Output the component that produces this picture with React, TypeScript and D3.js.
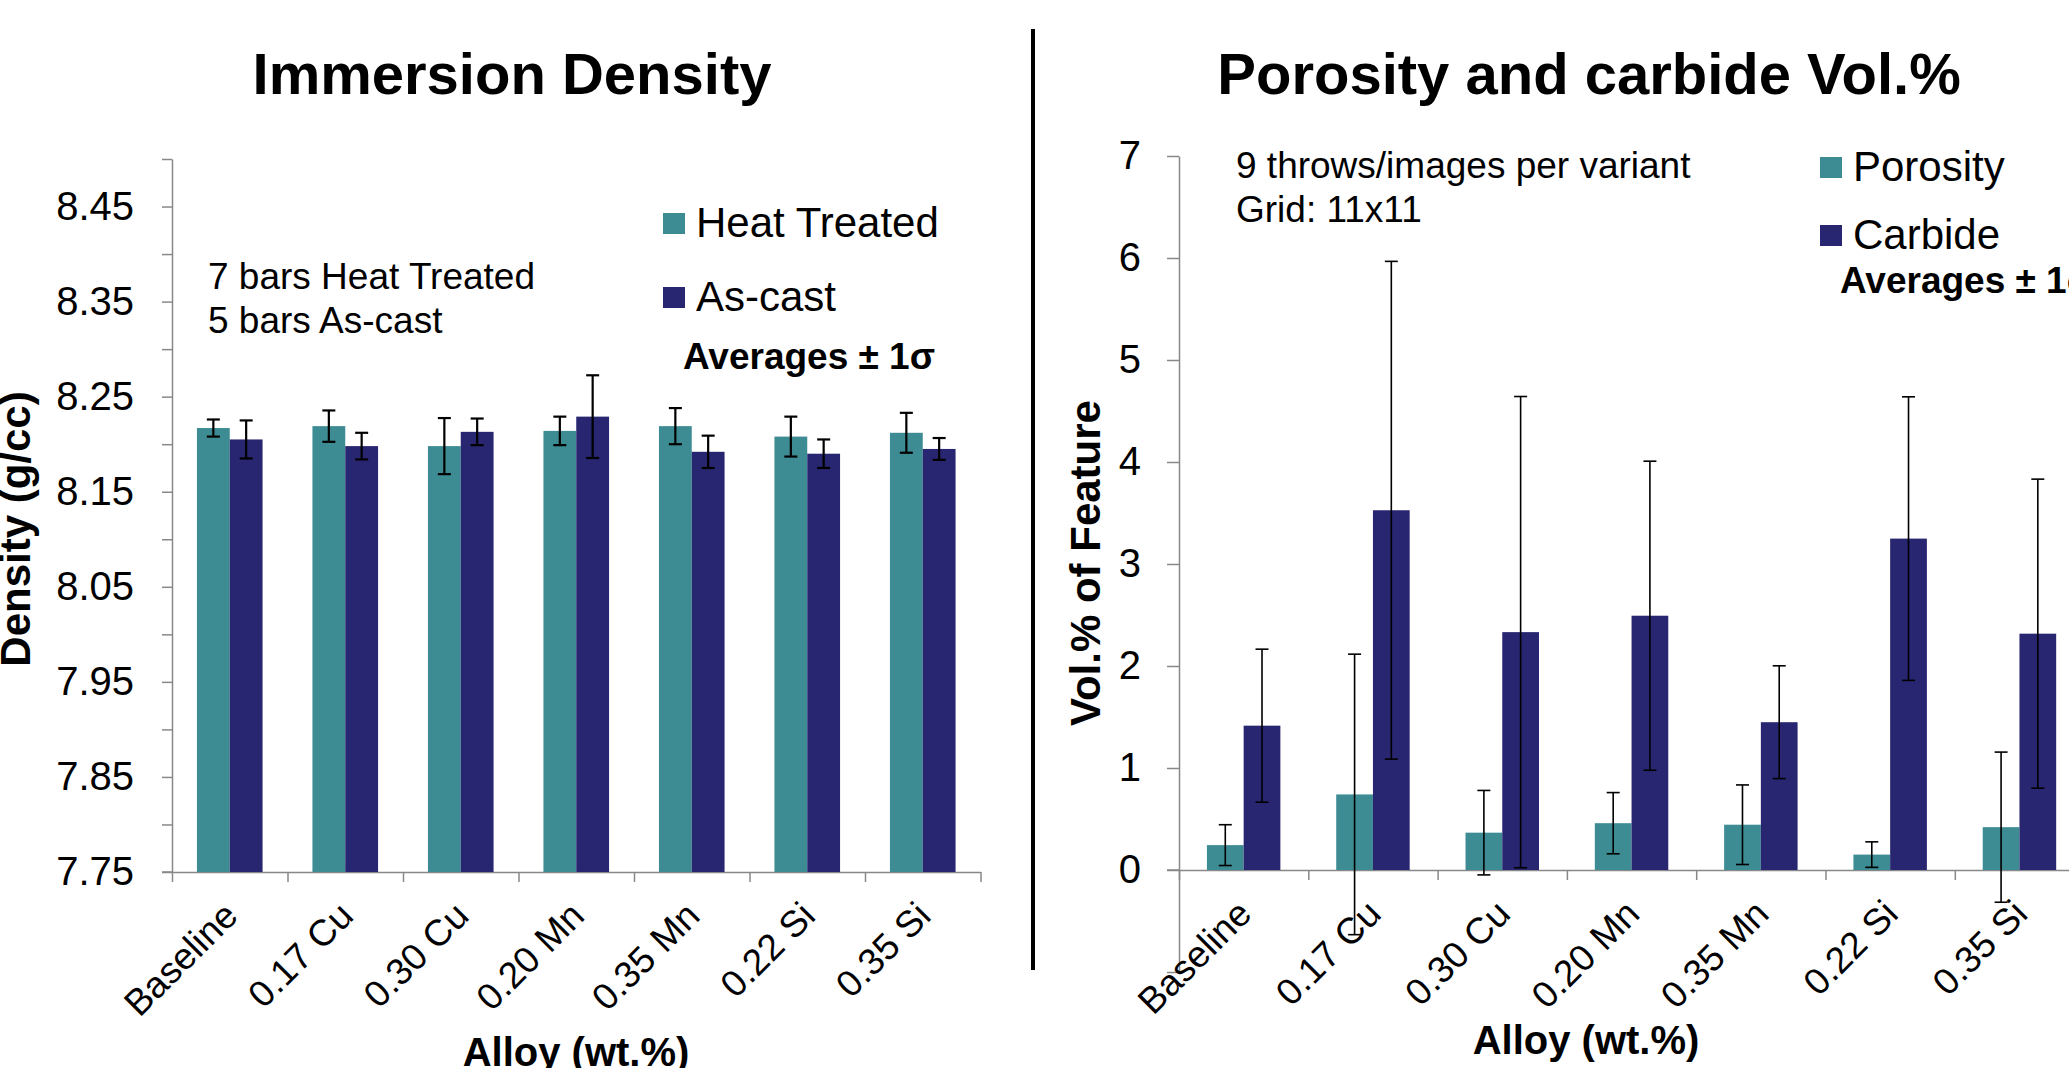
import { useRef, useEffect } from 'react';
import * as d3 from 'd3';

const alloys = ['Baseline', '0.17 Cu', '0.30 Cu', '0.20 Mn', '0.35 Mn', '0.22 Si', '0.35 Si'];

// Immersion density (g/cc), mean and 1 sigma
const heatTreated = [8.217, 8.219, 8.198, 8.214, 8.219, 8.208, 8.212];
const heatTreatedSd = [0.009, 0.0165, 0.0295, 0.015, 0.019, 0.021, 0.021];
const asCast = [8.205, 8.198, 8.213, 8.229, 8.192, 8.19, 8.195];
const asCastSd = [0.02, 0.014, 0.014, 0.0435, 0.017, 0.015, 0.0115];

// Vol.% of feature, mean and 1 sigma
const porosity = [0.244, 0.741, 0.366, 0.459, 0.444, 0.151, 0.42];
const porositySd = [0.2, 1.375, 0.414, 0.3, 0.39, 0.125, 0.736];
const carbide = [1.415, 3.527, 2.332, 2.493, 1.449, 3.249, 2.317];
const carbideSd = [0.75, 2.44, 2.31, 1.515, 0.553, 1.39, 1.515];

const densityTicks = [7.75, 7.85, 7.95, 8.05, 8.15, 8.25, 8.35, 8.45];
const densityMinorTicks = [7.8, 7.9, 8.0, 8.1, 8.2, 8.3, 8.4, 8.5];
const volTicks = [-1, 0, 1, 2, 3, 4, 5, 6, 7];

const TEAL = '#3e8c93';
const NAVY = '#282671';
const AXIS = '#888888';
const FONT = '"Liberation Sans", Arial, sans-serif';

type Series = { key: string; color: string; values: number[]; sd: number[] };

interface PanelOpts {
  xRange: [number, number];
  yDomain: [number, number];
  yRange: [number, number];
  baseValue: number;
  ticks: number[];
  minorTicks: number[];
  tickFormat: (d: number) => string;
  tickLen: number;
  tickPad: number;
  series: Series[];
  errWidth: number;
}

function drawPanel(svg: d3.Selection<SVGSVGElement, unknown, null, undefined>, o: PanelOpts) {
  const g = svg.append('g');
  const y = d3.scaleLinear().domain(o.yDomain).range(o.yRange);
  const x = d3.scaleBand<string>().domain(alloys).range(o.xRange).padding(0);
  const sub = d3.scaleBand<string>()
    .domain(o.series.map((s) => s.key))
    .range([0, x.bandwidth()])
    .paddingInner(0)
    .paddingOuter(0.76);
  const baseY = y(o.baseValue);

  // y axis
  const yAxis = d3.axisLeft(y)
    .tickValues(o.ticks)
    .tickFormat((d) => o.tickFormat(d as number))
    .tickSize(o.tickLen)
    .tickSizeOuter(0)
    .tickPadding(o.tickPad);
  const ya = g.append('g').attr('transform', `translate(${o.xRange[0]},0)`).call(yAxis);
  ya.selectAll('path,line').attr('stroke', AXIS).attr('stroke-width', 1.5);
  ya.selectAll('text').attr('fill', '#000').style('font-size', '40px').style('font-family', FONT);

  if (o.minorTicks.length) {
    const ym = g.append('g').attr('transform', `translate(${o.xRange[0]},0)`)
      .call(d3.axisLeft(y).tickValues(o.minorTicks).tickFormat(() => '').tickSize(o.tickLen).tickSizeOuter(0));
    ym.select('.domain').remove();
    ym.selectAll('line').attr('stroke', AXIS).attr('stroke-width', 1.5);
  }

  // category axis, ticks on band boundaries
  const xi = d3.scaleLinear().domain([0, alloys.length]).range(o.xRange);
  const xa = g.append('g').attr('transform', `translate(0,${baseY})`)
    .call(d3.axisBottom(xi).tickValues(d3.range(alloys.length + 1)).tickFormat(() => '').tickSize(10).tickSizeOuter(0));
  xa.selectAll('path,line').attr('stroke', AXIS).attr('stroke-width', 1.5);
  g.append('line')
    .attr('x1', o.xRange[0] - o.tickLen).attr('x2', o.xRange[0])
    .attr('y1', baseY).attr('y2', baseY)
    .attr('stroke', AXIS).attr('stroke-width', 1.5);

  // bars
  o.series.forEach((s) => {
    g.selectAll(null)
      .data(s.values)
      .join('rect')
      .attr('x', (_, i) => (x(alloys[i]) ?? 0) + (sub(s.key) ?? 0))
      .attr('y', (d) => Math.min(y(d), baseY))
      .attr('width', sub.bandwidth())
      .attr('height', (d) => Math.abs(baseY - y(d)))
      .attr('fill', s.color);
  });

  // error bars
  o.series.forEach((s) => {
    const cx = (i: number) => (x(alloys[i]) ?? 0) + (sub(s.key) ?? 0) + sub.bandwidth() / 2;
    const eb = g.selectAll(null).data(s.values).join('g')
      .attr('stroke', '#000').attr('stroke-width', o.errWidth);
    eb.append('line')
      .attr('x1', (_, i) => cx(i)).attr('x2', (_, i) => cx(i))
      .attr('y1', (d, i) => y(d + s.sd[i])).attr('y2', (d, i) => y(d - s.sd[i]));
    eb.append('line')
      .attr('x1', (_, i) => cx(i) - 6.5).attr('x2', (_, i) => cx(i) + 6.5)
      .attr('y1', (d, i) => y(d + s.sd[i])).attr('y2', (d, i) => y(d + s.sd[i]));
    eb.append('line')
      .attr('x1', (_, i) => cx(i) - 6.5).attr('x2', (_, i) => cx(i) + 6.5)
      .attr('y1', (d, i) => y(d - s.sd[i])).attr('y2', (d, i) => y(d - s.sd[i]));
  });

  // category labels
  g.selectAll(null)
    .data(alloys)
    .join('text')
    .attr('transform', (d) => `translate(${(x(d) ?? 0) + x.bandwidth() / 2 + 10},${baseY + 46}) rotate(-45)`)
    .attr('text-anchor', 'end')
    .style('font-size', '37px')
    .style('font-family', FONT)
    .text((d) => d);
}

export default function App() {
  const svgRef = useRef<SVGSVGElement>(null);

  useEffect(() => {
    if (!svgRef.current) return;
    document.body.style.margin = '0';
    document.body.style.overflow = 'hidden';
    const svg = d3.select(svgRef.current);
    svg.selectAll('*').remove();

    drawPanel(svg, {
      xRange: [172, 980.5],
      yDomain: [7.75, 8.5],
      yRange: [872, 159],
      baseValue: 7.75,
      ticks: densityTicks,
      minorTicks: densityMinorTicks,
      tickFormat: (d) => d3.format('.2f')(d),
      tickLen: 10,
      tickPad: 28,
      errWidth: 2.2,
      series: [
        { key: 'Heat Treated', color: TEAL, values: heatTreated, sd: heatTreatedSd },
        { key: 'As-cast', color: NAVY, values: asCast, sd: asCastSd },
      ],
    });

    drawPanel(svg, {
      xRange: [1179, 1179 + 7 * 129.3],
      yDomain: [-1, 7],
      yRange: [972, 156],
      baseValue: 0,
      ticks: volTicks,
      minorTicks: [],
      tickFormat: (d) => (d < 0 ? '' : String(d)),
      tickLen: 12,
      tickPad: 26,
      errWidth: 1.6,
      series: [
        { key: 'Porosity', color: TEAL, values: porosity, sd: porositySd },
        { key: 'Carbide', color: NAVY, values: carbide, sd: carbideSd },
      ],
    });

    const txt = (x: number, y: number, s: string, size: number, bold = false, anchor = 'start') =>
      svg.append('text')
        .attr('x', x).attr('y', y)
        .attr('text-anchor', anchor)
        .style('font-size', `${size}px`)
        .style('font-weight', bold ? 'bold' : 'normal')
        .style('font-family', FONT)
        .text(s);

    // titles
    txt(512, 94, 'Immersion Density', 58, true, 'middle');
    txt(1589, 94, 'Porosity and carbide Vol.%', 58, true, 'middle');

    // divider
    svg.append('line')
      .attr('x1', 1033).attr('x2', 1033).attr('y1', 29).attr('y2', 970)
      .attr('stroke', '#000').attr('stroke-width', 4);

    // axis titles
    txt(576, 1066, 'Alloy (wt.%)', 40, true, 'middle');
    txt(1586, 1054, 'Alloy (wt.%)', 40, true, 'middle');
    svg.append('text')
      .attr('transform', 'translate(30,529) rotate(-90)')
      .attr('text-anchor', 'middle')
      .style('font-size', '42px').style('font-weight', 'bold').style('font-family', FONT)
      .text('Density (g/cc)');
    svg.append('text')
      .attr('transform', 'translate(1100,563) rotate(-90)')
      .attr('text-anchor', 'middle')
      .style('font-size', '42px').style('font-weight', 'bold').style('font-family', FONT)
      .text('Vol.% of Feature');

    // notes
    txt(208, 289, '7 bars Heat Treated', 37);
    txt(208, 333, '5 bars As-cast', 37);
    txt(1236, 178, '9 throws/images per variant', 37);
    txt(1236, 222, 'Grid: 11x11', 37);

    // legends
    const legend = (x: number, y: number, color: string, label: string) => {
      svg.append('rect').attr('x', x).attr('y', y).attr('width', 22).attr('height', 21).attr('fill', color);
      txt(x + 33, y + 24, label, 42);
    };
    legend(663, 213, TEAL, 'Heat Treated');
    legend(663, 287, NAVY, 'As-cast');
    txt(683, 369, 'Averages ± 1σ', 37, true);
    legend(1820, 157, TEAL, 'Porosity');
    legend(1820, 225, NAVY, 'Carbide');
    txt(1840, 293, 'Averages ± 1σ', 37, true);
  }, []);

  return (
    <svg
      ref={svgRef}
      width={2069}
      height={1068}
      style={{ position: 'absolute', left: 0, top: 0, background: '#fff' }}
    />
  );
}
